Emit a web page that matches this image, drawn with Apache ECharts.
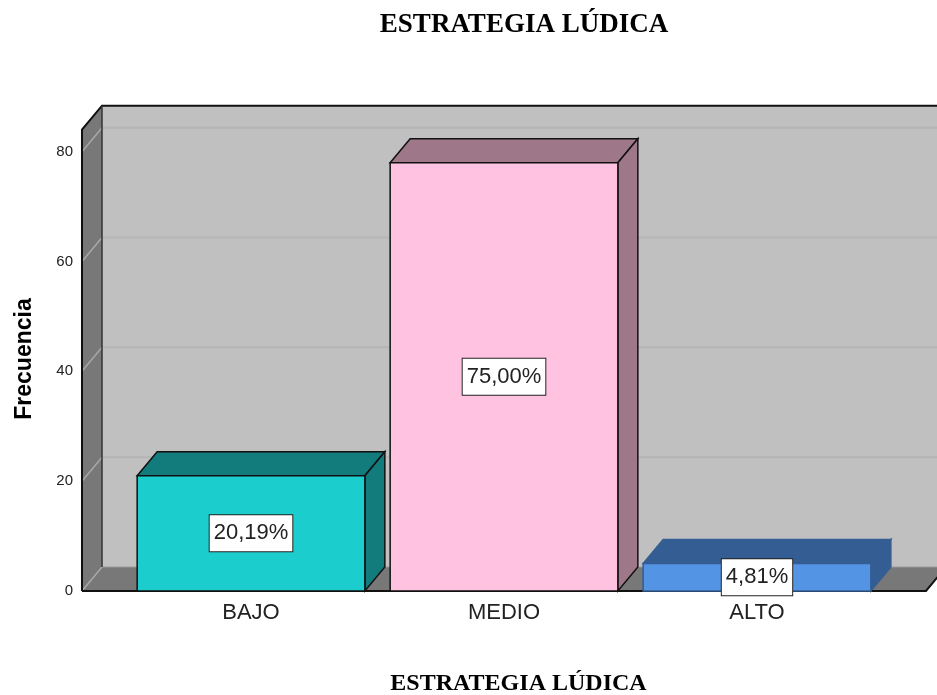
<!DOCTYPE html>
<html>
<head>
<meta charset="utf-8">
<script src="https://cdn.jsdelivr.net/npm/echarts@6/dist/echarts.min.js"></script>
<style>
html,body{margin:0;padding:0;background:#fff;}
#chart{width:937px;height:695px;}
</style>
</head>
<body>
<div id="chart"></div>
<script>
const categories = ['BAJO', 'MEDIO', 'ALTO'];
const frequencies = [21, 78, 5];
const percentLabels = ['20,19%', '75,00%', '4,81%'];
const yTicks = [0, 20, 40, 60, 80];
const frontColors = ['#1CCDCD', '#FFC2E1', '#5494E4'];
const topColors = ['#127B7B', '#9E7888', '#345E93'];
const edgeColors = ['#111111', '#111111', '#345E93'];
const chartTitle = 'ESTRATEGIA LÚDICA';
const xAxisTitle = 'ESTRATEGIA LÚDICA';
const yAxisTitle = 'Frecuencia';

const DX = 20, DY = -24;
const SANS = 'Liberation Sans, Arial, sans-serif';
const SERIF = 'Liberation Serif, Times New Roman, serif';

const chart = echarts.init(document.getElementById('chart'));

function renderWalls(params, api) {
  const cs = params.coordSys;
  const band = api.size([1, 0])[0];
  const pad = band * 0.168;
  const x0 = cs.x - pad;
  const x1 = cs.x + cs.width + pad;
  const yTop = cs.y;
  const yBot = cs.y + cs.height;
  const children = [];
  children.push({type: 'polygon', shape: {points: [[x0 + DX, yTop + DY], [x1 + DX + 40, yTop + DY], [x1 + DX + 40, yBot + DY], [x0 + DX, yBot + DY]]},
    style: {fill: '#C0C0C0'}});
  yTicks.forEach(v => {
    if (v === 0) return;
    const y = api.coord([0, v])[1];
    children.push({type: 'line', shape: {x1: x0 + DX, y1: y + DY, x2: x1 + DX + 40, y2: y + DY},
      style: {stroke: '#B5B5B5', lineWidth: 2}});
  });
  children.push({type: 'polygon', shape: {points: [[x0, yTop], [x0 + DX, yTop + DY], [x0 + DX, yBot + DY], [x0, yBot]]},
    style: {fill: '#787878'}});
  yTicks.forEach(v => {
    if (v === 0) return;
    const y = api.coord([0, v])[1];
    children.push({type: 'line', shape: {x1: x0, y1: y, x2: x0 + DX, y2: y + DY},
      style: {stroke: '#A8A8A8', lineWidth: 1.5}});
  });
  children.push({type: 'polygon', shape: {points: [[x0, yBot], [x0 + DX, yBot + DY], [x1 + DX, yBot + DY], [x1, yBot]]},
    style: {fill: '#787878'}});
  children.push({type: 'line', shape: {x1: x0 + DX, y1: yBot + DY, x2: x1 + DX + 40, y2: yBot + DY},
    style: {stroke: '#9A9A9A', lineWidth: 1}});
  children.push({type: 'line', shape: {x1: x0, y1: yBot, x2: x0 + DX, y2: yBot + DY},
    style: {stroke: '#A8A8A8', lineWidth: 1.5}});
  children.push({type: 'polyline', shape: {points: [[x0, yBot], [x0, yTop], [x0 + DX, yTop + DY], [x1 + DX + 40, yTop + DY]]},
    style: {stroke: '#111', lineWidth: 2, fill: null}});
  children.push({type: 'line', shape: {x1: x0 + DX, y1: yTop + DY, x2: x0 + DX, y2: yBot + DY},
    style: {stroke: '#333', lineWidth: 1.5}});
  children.push({type: 'polyline', shape: {points: [[x0, yBot], [x1, yBot], [x1 + DX, yBot + DY]]},
    style: {stroke: '#111', lineWidth: 2, fill: null}});
  return {type: 'group', children: children};
}

function renderBar(params, api) {
  const i = api.value(0);
  const v = api.value(1);
  const pt = api.coord([i, v]);
  const base = api.coord([i, 0]);
  const band = api.size([1, 0])[0];
  const w = band * 0.9;
  const xl = pt[0] - w / 2, xr = pt[0] + w / 2;
  const yt = pt[1], yb = base[1];
  const edge = edgeColors[i];
  return {
    type: 'group',
    children: [
      {type: 'polygon', shape: {points: [[xl, yt], [xl + DX, yt + DY], [xr + DX, yt + DY], [xr, yt]]},
        style: {fill: topColors[i], stroke: edge, lineWidth: 1.5}},
      {type: 'polygon', shape: {points: [[xr, yt], [xr + DX, yt + DY], [xr + DX, yb + DY], [xr, yb]]},
        style: {fill: topColors[i], stroke: edge, lineWidth: 1.5}},
      {type: 'rect', shape: {x: xl, y: yt, width: w, height: yb - yt},
        style: {fill: frontColors[i], stroke: edge, lineWidth: 1.5}},
      {type: 'text', x: pt[0], y: (yt + yb) / 2,
        style: {text: percentLabels[i], fontFamily: SANS, fontSize: 22, fill: '#222',
          align: 'center', verticalAlign: 'middle', lineHeight: 26,
          backgroundColor: '#FFFFFF', borderColor: '#222', borderWidth: 1, padding: [5, 4, 5, 4]}}
    ]
  };
}

chart.setOption({
  animation: false,
  backgroundColor: '#FFFFFF',
  grid: {left: 124.5, right: 53.5, top: 129.7, bottom: 104, containLabel: false},
  xAxis: {
    type: 'category', data: categories,
    axisLine: {show: false}, axisTick: {show: false}, splitLine: {show: false},
    axisLabel: {fontFamily: SANS, fontSize: 22, color: '#222', margin: 11}
  },
  yAxis: {
    type: 'value', min: 0, max: 84, interval: 20,
    axisLine: {show: false}, axisTick: {show: false}, splitLine: {show: false},
    axisLabel: {fontFamily: SANS, fontSize: 15, color: '#222', margin: 51.5, showMaxLabel: false}
  },
  series: [
    {type: 'custom', data: [[0, 0]], renderItem: renderWalls, silent: true, encode: {x: 0, y: 1}},
    {type: 'custom', data: frequencies.map((v, i) => [i, v]), renderItem: renderBar, encode: {x: 0, y: 1}}
  ],
  graphic: [
    {type: 'text', x: 524, y: 25, style: {text: chartTitle, fontFamily: SERIF, fontWeight: 'bold', fontSize: 27, fill: '#000', align: 'center', verticalAlign: 'middle'}},
    {type: 'text', x: 518.5, y: 684, style: {text: xAxisTitle, fontFamily: SERIF, fontWeight: 'bold', fontSize: 24, fill: '#000', align: 'center', verticalAlign: 'middle'}},
    {type: 'text', x: 25, y: 359, rotation: Math.PI / 2, style: {text: yAxisTitle, fontFamily: SANS, fontWeight: 'bold', fontSize: 23, fill: '#000', align: 'center', verticalAlign: 'middle'}}
  ]
});
</script>
</body>
</html>
